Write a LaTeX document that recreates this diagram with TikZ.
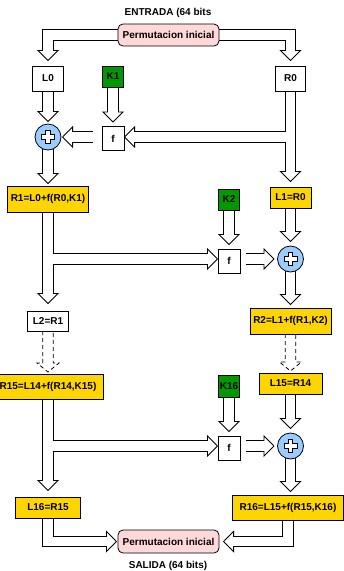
\documentclass[tikz,border=0pt]{standalone}
\usepackage{fontspec}
\setmainfont{Liberation Sans}
\usetikzlibrary{arrows.meta,calc,backgrounds}
\definecolor{kgreen}{HTML}{009900}
\definecolor{ryellow}{HTML}{FFD500}
\definecolor{ppink}{HTML}{FFD9D9}
\definecolor{xblue}{HTML}{99CCFF}
\tikzset{
  box/.style={draw=black, line width=0.8pt, fill=white, inner sep=0pt, outer sep=0pt,
    font=\fontsize{10}{12}\selectfont\bfseries, text=black},
  sz/.style 2 args={minimum width=#1pt, minimum height=#2pt},
  ybox/.style={box, fill=ryellow},
  kbox/.style={box, fill=kgreen},
  pbox/.style={box, fill=ppink, rounded corners=5pt},
  xorc/.style={circle, draw=black, line width=0.8pt, fill=xblue, minimum size=26pt,
    inner sep=0pt, outer sep=0pt},
  lbl/.style={font=\fontsize{10}{12}\selectfont\bfseries, inner sep=0pt},
  pass black/.style={draw=black, line width=11.3pt, line join=miter,
    -{Triangle[length=11pt 0 0, width=22pt 0 0, line width=0.8pt 0 0, fill=white]},
    tipgap/.style={shorten >=##1}},
  pass white/.style={draw=white, line width=9.7pt, line join=miter, -,
    tipgap/.style={shorten >=##1+9.8pt}},
  dashedarrow/.style={draw=black, line width=0.8pt, dash pattern=on 4pt off 3pt, line join=miter},
  plusmark/.style={draw=black, line width=0.7pt, fill=white},
}
\newcommand\xorplus[1]{%
  \draw[plusmark, shift={(#1.center)}] (-2.3,-6.5) -- (2.3,-6.5) -- (2.3,-2.3) -- (6.5,-2.3)
    -- (6.5,2.3) -- (2.3,2.3) -- (2.3,6.5) -- (-2.3,6.5) -- (-2.3,2.3) -- (-6.5,2.3)
    -- (-6.5,-2.3) -- (-2.3,-2.3) -- cycle;}
\newcommand\shaftpaths{%
  \draw[tipgap=5pt, shorten <=-2pt] (P1.west) -| (L0.north);
  \draw[tipgap=5pt, shorten <=-2pt] (P1.east) -| (R0.north);
  \draw[tipgap=2pt, shorten <=-2pt] (L0.south) -- (X1.north);
  \draw[tipgap=4pt, shorten <=-2pt] (K1.south) -- (F1.north);
  \draw[tipgap=1pt, shorten <=9pt] (F1.west |- X1.east) -- (X1.east);
  \draw[tipgap=5pt, shorten <=-2pt] (R0.south) -- (L1.north);
  \draw[tipgap=0pt] (R0.south |- X1.east) -- (F1.east |- X1.east);
  \draw[tipgap=2pt, shorten <=-2pt] (X1.south) -- (R1.north);
  \draw[tipgap=4pt, shorten <=-2pt] (K2.south) -- (F2.north);
  \draw[tipgap=4pt, shorten <=-2pt] (L1.south) -- (X2.north);
  \draw[tipgap=7pt, shorten <=-2pt] (R1.south) -- (L2.north);
  \draw[tipgap=0pt] (R1.south |- X2.west) -- (F2.west |- X2.west);
  \draw[tipgap=3pt, shorten <=6pt] (F2.east |- X2.west) -- (X2.west);
  \draw[tipgap=3pt, shorten <=-2pt] (X2.south) -- (R2.north);
  \draw[tipgap=4pt, shorten <=-2pt] (K16.south) -- (F3.north);
  \draw[tipgap=4pt, shorten <=-2pt] (L15.south) -- (X3.north);
  \draw[tipgap=6pt, shorten <=-2pt] (R15.south) -- (L16.north);
  \draw[tipgap=0pt] (R15.south |- X3.west) -- (F3.west |- X3.west);
  \draw[tipgap=3pt, shorten <=6pt] (F3.east |- X3.west) -- (X3.west);
  \draw[tipgap=3pt, shorten <=-2pt] (X3.south) -- (X3.south |- R16.north);
  \draw[tipgap=1pt, shorten <=-2pt] (L16.south) |- (P2.west);
  \draw[tipgap=4pt, shorten <=-2pt] (R16.south) |- (P2.east);
}
\begin{document}
\begin{tikzpicture}[x=1pt, y=-1pt]
\useasboundingbox (0,0) rectangle (344,571);
% texts
\node[lbl] (tin) at (168,13) {ENTRADA (64 bits};
\node[lbl] (tout) at (168,566) {SALIDA (64 bits)};
% top
\node[pbox, sz={101}{22}] (P1) at (168.5,35) {Permutacion inicial};
\node[box, sz={31}{25}] (L0) at (48,78.5) {L0};
\node[kbox, sz={21}{21}] (K1) at (113,76.5) {K1};
\node[box, sz={30}{25}] (R0) at (290.5,78.5) {R0};
\node[xorc] (X1) at (48,137) {};
\node[box, sz={22}{24}] (F1) at (113,138.5) {f};
% round 2
\node[ybox, sz={81}{26}] (R1) at (48,199) {R1=L0+f(R0,K1)};
\node[kbox, sz={21}{21}] (K2) at (229,199.5) {K2};
\node[ybox, sz={41}{21}] (L1) at (290.5,197.5) {L1=R0};
\node[box, sz={22}{24}] (F2) at (229,261) {f};
\node[xorc] (X2) at (290.5,259) {};
\node[box, sz={41}{20}] (L2) at (48,321) {L2=R1};
\node[ybox, sz={81}{26}] (R2) at (290.5,321) {R2=L1+f(R1,K2)};
% round 16
\node[ybox, sz={110}{25}] (R15) at (48,386.5) {R15=L14+f(R14,K15)};
\node[kbox, sz={21}{22}] (K16) at (229,386) {K16};
\node[ybox, sz={63}{21}] (L15) at (290.5,383.5) {L15=R14};
\node[box, sz={22}{24}] (F3) at (229,448) {f};
\node[xorc] (X3) at (290.5,446) {};
\node[ybox, sz={65}{21}] (L16) at (48,507.5) {L16=R15};
\node[ybox, sz={111}{25}] (R16) at (288,507.5) {R16=L15+f(R15,K16)};
\node[pbox, sz={101}{23}] (P2) at (168.5,541.5) {Permutacion inicial};
% plus marks
\xorplus{X1}
\xorplus{X2}
\xorplus{X3}
% block arrows
\begin{pgfonlayer}{background}
  \begin{scope}[pass black]\shaftpaths\end{scope}
  \begin{scope}[pass white]\shaftpaths\end{scope}
  \draw[dashedarrow] ($(L2.south)+(-5.25,0)$) -- ($(R15.north)+(-5.25,-11)$)
    -- ($(R15.north)+(-11,-11)$) -- ($(R15.north)+(0,-2)$) -- ($(R15.north)+(11,-11)$)
    -- ($(R15.north)+(5.25,-11)$) -- ($(L2.south)+(5.25,0)$);
  \draw[dashedarrow] ($(R2.south)+(-5.25,0)$) -- ($(L15.north)+(-5.25,-11)$)
    -- ($(L15.north)+(-11,-11)$) -- ($(L15.north)+(0,-2)$) -- ($(L15.north)+(11,-11)$)
    -- ($(L15.north)+(5.25,-11)$) -- ($(R2.south)+(5.25,0)$);
\end{pgfonlayer}
\end{tikzpicture}
\end{document}
